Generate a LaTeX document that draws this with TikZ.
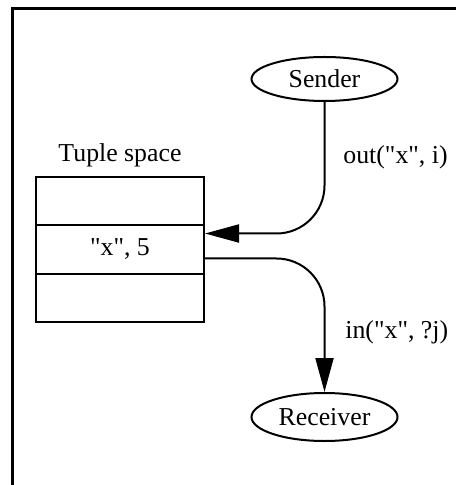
\documentclass[tikz,border=0pt]{standalone}
\usepackage{fontspec}
\setmainfont{Liberation Serif}
\usetikzlibrary{shapes.geometric,arrows.meta}
\newcommand\sq{\textquotedbl}
\begin{document}
\begin{tikzpicture}[x=0.5pt,y=-0.5pt,
  every node/.style={font=\fontsize{12.9pt}{15pt}\selectfont},
  actor/.style={draw,ellipse,line width=1pt,inner sep=0pt,minimum width=73pt},
  cell/.style={draw,rectangle,line width=1pt,minimum width=84pt,minimum height=24pt,inner sep=0pt},
  flow/.style={line width=1pt,rounded corners=24pt,-{Triangle[length=17pt,width=9pt]}},
  lbl/.style={anchor=west,inner sep=0pt}]
\useasboundingbox (0,0) rectangle (455,485);
\fill[white] (0,0) rectangle (455,485);
\draw[line width=1.5pt] (12,490) -- (12,9) -- (460,9);
\node[actor,minimum height=22pt] (sender) at (324.5,79) {Sender};
\node[actor,minimum height=24pt] (receiver) at (324.5,417) {Receiver};
\node[cell] (row1) at (120,201.5) {};
\node[cell] (row2) at (120,249.5) {\sq x\sq, 5};
\node[cell] (row3) at (120,297.5) {};
\node[inner sep=0pt] (title) at (120,155) {Tuple space};
\draw[flow] (sender.south) |- ([yshift=8pt]row2.east);
\draw[flow] ([yshift=-4.5pt]row2.east) -| (receiver.north);
\node[lbl] (outlbl) at (343,157) {out(\sq x\sq, i)};
\node[lbl] (inlbl) at (345,332) {in(\sq x\sq, ?j)};
\end{tikzpicture}
\end{document}
